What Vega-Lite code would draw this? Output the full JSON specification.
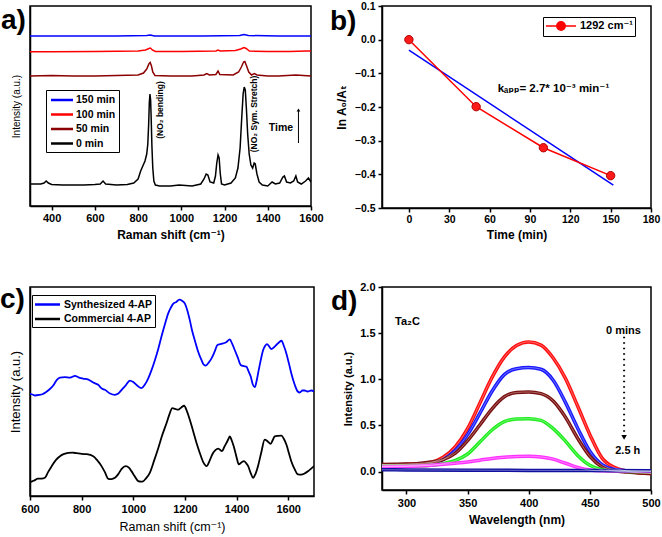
{
 "$schema": "https://vega.github.io/schema/vega-lite/v6.json",
 "autosize": {"type": "none"},
 "padding": {"left": 30, "top": 6, "right": 632, "bottom": 531},
 "background": "white",
 "columns": 2,
 "spacing": {"row": 79, "column": 68},
 "bounds": "flush",
 "align": "each",
 "resolve": {"scale": {"color": "independent"}, "legend": {"color": "independent"}},
 "config": {
  "font": "Liberation Sans, DejaVu Sans, sans-serif",
  "view": {"stroke": "black", "strokeWidth": 1.5},
  "axis": {"domainColor": "black", "domainWidth": 1.5, "tickColor": "black", "tickWidth": 1.5, "tickSize": 4, "labelColor": "black", "labelFontWeight": "bold", "labelFontSize": 11, "labelPadding": 2, "titleColor": "black", "titleFontWeight": "bold", "titleFontSize": 12, "grid": false, "labelFlush": false, "labelOverlap": false, "labelSeparation": 0, "labelBound": false, "tickCount": 12},
  "legend": {"strokeColor": "black", "fillColor": "white", "padding": 3, "labelColor": "black", "labelFontSize": 11, "labelFontWeight": "bold", "rowPadding": 2, "labelOffset": 4, "symbolStrokeWidth": 2.5},
  "title": {"anchor": "start", "frame": "group", "orient": "top", "baseline": "alphabetic", "fontSize": 28, "fontWeight": "bold", "color": "black"}
 },
 "datasets": {
  "a": [
   {"s":"0 min","x":300,"y":22},{"s":"0 min","x":320,"y":22},{"s":"0 min","x":350,"y":22},{"s":"0 min","x":365,"y":23},{"s":"0 min","x":375,"y":25},{"s":"0 min","x":385,"y":23},{"s":"0 min","x":400,"y":21.5},{"s":"0 min","x":450,"y":21},{"s":"0 min","x":500,"y":21},{"s":"0 min","x":550,"y":21},{"s":"0 min","x":600,"y":21.5},{"s":"0 min","x":625,"y":22},{"s":"0 min","x":638,"y":25},{"s":"0 min","x":650,"y":22},{"s":"0 min","x":700,"y":21},{"s":"0 min","x":750,"y":21.5},{"s":"0 min","x":780,"y":23},{"s":"0 min","x":800,"y":27},{"s":"0 min","x":812,"y":35},{"s":"0 min","x":822,"y":40},{"s":"0 min","x":832,"y":45},{"s":"0 min","x":840,"y":52},{"s":"0 min","x":845,"y":62},{"s":"0 min","x":849,"y":82},{"s":"0 min","x":852,"y":103},{"s":"0 min","x":855,"y":112},{"s":"0 min","x":858,"y":106},{"s":"0 min","x":861,"y":85},{"s":"0 min","x":864,"y":60},{"s":"0 min","x":868,"y":38},{"s":"0 min","x":873,"y":25},{"s":"0 min","x":880,"y":21},{"s":"0 min","x":900,"y":20},{"s":"0 min","x":950,"y":20},{"s":"0 min","x":990,"y":21},{"s":"0 min","x":1050,"y":20},{"s":"0 min","x":1090,"y":22},{"s":"0 min","x":1105,"y":27},{"s":"0 min","x":1115,"y":32},{"s":"0 min","x":1123,"y":31},{"s":"0 min","x":1133,"y":24},{"s":"0 min","x":1150,"y":23},{"s":"0 min","x":1158,"y":30},{"s":"0 min","x":1164,"y":43},{"s":"0 min","x":1170,"y":51},{"s":"0 min","x":1175,"y":48},{"s":"0 min","x":1180,"y":33},{"s":"0 min","x":1186,"y":22},{"s":"0 min","x":1200,"y":21},{"s":"0 min","x":1230,"y":23},{"s":"0 min","x":1250,"y":28},{"s":"0 min","x":1262,"y":38},{"s":"0 min","x":1272,"y":58},{"s":"0 min","x":1280,"y":90},{"s":"0 min","x":1286,"y":112},{"s":"0 min","x":1291,"y":119},{"s":"0 min","x":1296,"y":116},{"s":"0 min","x":1301,"y":98},{"s":"0 min","x":1307,"y":72},{"s":"0 min","x":1314,"y":52},{"s":"0 min","x":1322,"y":41},{"s":"0 min","x":1330,"y":38},{"s":"0 min","x":1337,"y":43},{"s":"0 min","x":1342,"y":42},{"s":"0 min","x":1350,"y":32},{"s":"0 min","x":1360,"y":24},{"s":"0 min","x":1375,"y":21},{"s":"0 min","x":1400,"y":20},{"s":"0 min","x":1420,"y":24},{"s":"0 min","x":1435,"y":22},{"s":"0 min","x":1455,"y":23},{"s":"0 min","x":1470,"y":29},{"s":"0 min","x":1477,"y":30},{"s":"0 min","x":1487,"y":24},{"s":"0 min","x":1505,"y":23},{"s":"0 min","x":1520,"y":25},{"s":"0 min","x":1530,"y":30},{"s":"0 min","x":1538,"y":24},{"s":"0 min","x":1555,"y":22},{"s":"0 min","x":1575,"y":25},{"s":"0 min","x":1588,"y":28},{"s":"0 min","x":1600,"y":24},
   {"s":"50 min","x":300,"y":130},{"s":"50 min","x":400,"y":130.5},{"s":"50 min","x":500,"y":130},{"s":"50 min","x":600,"y":130},{"s":"50 min","x":700,"y":130.5},{"s":"50 min","x":800,"y":131},{"s":"50 min","x":825,"y":133},{"s":"50 min","x":840,"y":137},{"s":"50 min","x":850,"y":142},{"s":"50 min","x":856,"y":143.5},{"s":"50 min","x":862,"y":140},{"s":"50 min","x":868,"y":134},{"s":"50 min","x":878,"y":130.5},{"s":"50 min","x":950,"y":130},{"s":"50 min","x":1050,"y":130},{"s":"50 min","x":1105,"y":131},{"s":"50 min","x":1118,"y":132.5},{"s":"50 min","x":1130,"y":131},{"s":"50 min","x":1160,"y":131.5},{"s":"50 min","x":1170,"y":135},{"s":"50 min","x":1178,"y":131.5},{"s":"50 min","x":1240,"y":131},{"s":"50 min","x":1265,"y":134},{"s":"50 min","x":1278,"y":139},{"s":"50 min","x":1288,"y":144},{"s":"50 min","x":1294,"y":144.5},{"s":"50 min","x":1302,"y":140},{"s":"50 min","x":1312,"y":134},{"s":"50 min","x":1325,"y":131},{"s":"50 min","x":1338,"y":132.5},{"s":"50 min","x":1350,"y":131},{"s":"50 min","x":1400,"y":130},{"s":"50 min","x":1450,"y":130},{"s":"50 min","x":1530,"y":131},{"s":"50 min","x":1600,"y":130},
   {"s":"100 min","x":300,"y":154.3},{"s":"100 min","x":400,"y":154.3},{"s":"100 min","x":600,"y":154.5},{"s":"100 min","x":800,"y":155},{"s":"100 min","x":835,"y":156},{"s":"100 min","x":850,"y":157.5},{"s":"100 min","x":857,"y":158},{"s":"100 min","x":866,"y":156},{"s":"100 min","x":880,"y":154.5},{"s":"100 min","x":1000,"y":154.5},{"s":"100 min","x":1160,"y":155},{"s":"100 min","x":1170,"y":156},{"s":"100 min","x":1180,"y":155},{"s":"100 min","x":1250,"y":155.5},{"s":"100 min","x":1275,"y":157},{"s":"100 min","x":1290,"y":158.5},{"s":"100 min","x":1300,"y":157.5},{"s":"100 min","x":1315,"y":155},{"s":"100 min","x":1400,"y":154.5},{"s":"100 min","x":1500,"y":154.5},{"s":"100 min","x":1580,"y":155},{"s":"100 min","x":1600,"y":155},
   {"s":"150 min","x":300,"y":170},{"s":"150 min","x":500,"y":170},{"s":"150 min","x":700,"y":170},{"s":"150 min","x":840,"y":170.5},{"s":"150 min","x":857,"y":171},{"s":"150 min","x":875,"y":170},{"s":"150 min","x":1100,"y":170},{"s":"150 min","x":1270,"y":170.5},{"s":"150 min","x":1290,"y":171.5},{"s":"150 min","x":1310,"y":170.5},{"s":"150 min","x":1450,"y":170},{"s":"150 min","x":1600,"y":170}
  ],
  "aTxt": [{"x": 900, "y": 96, "label": "(NO₂ bending)"}, {"x": 1337, "y": 92, "label": "(NO₂ Sym. Stretch)"}],
  "aTime": [{"x": 1461, "y": 78, "label": "Time"}],
  "aArrow": [{"x": 1542, "y": 63, "y2": 95}],
  "aHead": [{"x": 1542, "y": 96}],
  "b": [{"s":"1292 cm⁻¹","x":0,"y":0},{"s":"1292 cm⁻¹","x":50,"y":-0.199},{"s":"1292 cm⁻¹","x":100,"y":-0.321},{"s":"1292 cm⁻¹","x":150,"y":-0.404}],
  "bFit": [{"x": 0, "y": -0.031}, {"x": 152, "y": -0.432}],
  "bTxt": [{"x": 66, "y": -0.147, "label": "kₐₚₚ= 2.7* 10⁻³ min⁻¹"}],
  "c": [
   {"s":"Synthesized 4-AP","x":600,"y":102.7},{"s":"Synthesized 4-AP","x":610,"y":102},{"s":"Synthesized 4-AP","x":619,"y":101},{"s":"Synthesized 4-AP","x":635,"y":101.5},{"s":"Synthesized 4-AP","x":650,"y":102.5},{"s":"Synthesized 4-AP","x":660,"y":104},{"s":"Synthesized 4-AP","x":675,"y":107},{"s":"Synthesized 4-AP","x":690,"y":111},{"s":"Synthesized 4-AP","x":705,"y":117},{"s":"Synthesized 4-AP","x":716,"y":119},{"s":"Synthesized 4-AP","x":735,"y":119.5},{"s":"Synthesized 4-AP","x":755,"y":119},{"s":"Synthesized 4-AP","x":774,"y":120.7},{"s":"Synthesized 4-AP","x":790,"y":119},{"s":"Synthesized 4-AP","x":805,"y":118},{"s":"Synthesized 4-AP","x":826,"y":117},{"s":"Synthesized 4-AP","x":845,"y":114},{"s":"Synthesized 4-AP","x":864,"y":111.7},{"s":"Synthesized 4-AP","x":878,"y":108},{"s":"Synthesized 4-AP","x":890,"y":106.7},{"s":"Synthesized 4-AP","x":910,"y":103},{"s":"Synthesized 4-AP","x":929,"y":101.7},{"s":"Synthesized 4-AP","x":942,"y":103},{"s":"Synthesized 4-AP","x":955,"y":106.7},{"s":"Synthesized 4-AP","x":970,"y":111},{"s":"Synthesized 4-AP","x":987,"y":116},{"s":"Synthesized 4-AP","x":1000,"y":114.5},{"s":"Synthesized 4-AP","x":1015,"y":111},{"s":"Synthesized 4-AP","x":1032,"y":108.3},{"s":"Synthesized 4-AP","x":1045,"y":112},{"s":"Synthesized 4-AP","x":1058,"y":118.3},{"s":"Synthesized 4-AP","x":1070,"y":126},{"s":"Synthesized 4-AP","x":1084,"y":136.7},{"s":"Synthesized 4-AP","x":1097,"y":148},{"s":"Synthesized 4-AP","x":1109,"y":160},{"s":"Synthesized 4-AP","x":1122,"y":172},{"s":"Synthesized 4-AP","x":1135,"y":183.3},{"s":"Synthesized 4-AP","x":1145,"y":189},{"s":"Synthesized 4-AP","x":1155,"y":193.3},{"s":"Synthesized 4-AP","x":1167,"y":195},{"s":"Synthesized 4-AP","x":1178,"y":197.3},{"s":"Synthesized 4-AP","x":1190,"y":196},{"s":"Synthesized 4-AP","x":1200,"y":193.3},{"s":"Synthesized 4-AP","x":1210,"y":186},{"s":"Synthesized 4-AP","x":1219,"y":176.7},{"s":"Synthesized 4-AP","x":1228,"y":166},{"s":"Synthesized 4-AP","x":1238,"y":156.7},{"s":"Synthesized 4-AP","x":1250,"y":146},{"s":"Synthesized 4-AP","x":1264,"y":136.7},{"s":"Synthesized 4-AP","x":1273,"y":132},{"s":"Synthesized 4-AP","x":1281,"y":131},{"s":"Synthesized 4-AP","x":1292,"y":134},{"s":"Synthesized 4-AP","x":1303,"y":138.3},{"s":"Synthesized 4-AP","x":1315,"y":145},{"s":"Synthesized 4-AP","x":1326,"y":151.7},{"s":"Synthesized 4-AP","x":1337,"y":152.5},{"s":"Synthesized 4-AP","x":1348,"y":153.3},{"s":"Synthesized 4-AP","x":1360,"y":154.5},{"s":"Synthesized 4-AP","x":1374,"y":157.3},{"s":"Synthesized 4-AP","x":1383,"y":153},{"s":"Synthesized 4-AP","x":1393,"y":146.7},{"s":"Synthesized 4-AP","x":1405,"y":139},{"s":"Synthesized 4-AP","x":1416,"y":131.7},{"s":"Synthesized 4-AP","x":1428,"y":130.5},{"s":"Synthesized 4-AP","x":1438,"y":130},{"s":"Synthesized 4-AP","x":1447,"y":125},{"s":"Synthesized 4-AP","x":1455,"y":120},{"s":"Synthesized 4-AP","x":1463,"y":112},{"s":"Synthesized 4-AP","x":1471,"y":109.3},{"s":"Synthesized 4-AP","x":1478,"y":116},{"s":"Synthesized 4-AP","x":1486,"y":126.7},{"s":"Synthesized 4-AP","x":1495,"y":138},{"s":"Synthesized 4-AP","x":1503,"y":146.7},{"s":"Synthesized 4-AP","x":1511,"y":151},{"s":"Synthesized 4-AP","x":1518,"y":152.7},{"s":"Synthesized 4-AP","x":1527,"y":150},{"s":"Synthesized 4-AP","x":1535,"y":147.7},{"s":"Synthesized 4-AP","x":1545,"y":149.5},{"s":"Synthesized 4-AP","x":1554,"y":151.7},{"s":"Synthesized 4-AP","x":1565,"y":154.5},{"s":"Synthesized 4-AP","x":1574,"y":156},{"s":"Synthesized 4-AP","x":1583,"y":151},{"s":"Synthesized 4-AP","x":1593,"y":143.3},{"s":"Synthesized 4-AP","x":1603,"y":133},{"s":"Synthesized 4-AP","x":1612,"y":123.3},{"s":"Synthesized 4-AP","x":1625,"y":112},{"s":"Synthesized 4-AP","x":1637,"y":105},{"s":"Synthesized 4-AP","x":1645,"y":104},{"s":"Synthesized 4-AP","x":1655,"y":106},{"s":"Synthesized 4-AP","x":1664,"y":106},{"s":"Synthesized 4-AP","x":1675,"y":105},{"s":"Synthesized 4-AP","x":1690,"y":106},{"s":"Synthesized 4-AP","x":1700,"y":105},
   {"s":"Commercial 4-AP","x":600,"y":14},{"s":"Commercial 4-AP","x":610,"y":15},{"s":"Commercial 4-AP","x":619,"y":16},{"s":"Commercial 4-AP","x":630,"y":17.5},{"s":"Commercial 4-AP","x":645,"y":17.5},{"s":"Commercial 4-AP","x":658,"y":18.3},{"s":"Commercial 4-AP","x":670,"y":24},{"s":"Commercial 4-AP","x":684,"y":30},{"s":"Commercial 4-AP","x":700,"y":36},{"s":"Commercial 4-AP","x":716,"y":40},{"s":"Commercial 4-AP","x":730,"y":42},{"s":"Commercial 4-AP","x":748,"y":43.3},{"s":"Commercial 4-AP","x":765,"y":43.5},{"s":"Commercial 4-AP","x":780,"y":43},{"s":"Commercial 4-AP","x":800,"y":42.3},{"s":"Commercial 4-AP","x":820,"y":42},{"s":"Commercial 4-AP","x":845,"y":40},{"s":"Commercial 4-AP","x":860,"y":36},{"s":"Commercial 4-AP","x":877,"y":30},{"s":"Commercial 4-AP","x":890,"y":24},{"s":"Commercial 4-AP","x":903,"y":17.3},{"s":"Commercial 4-AP","x":915,"y":17},{"s":"Commercial 4-AP","x":929,"y":18.3},{"s":"Commercial 4-AP","x":942,"y":22},{"s":"Commercial 4-AP","x":955,"y":27.3},{"s":"Commercial 4-AP","x":971,"y":30},{"s":"Commercial 4-AP","x":983,"y":28.5},{"s":"Commercial 4-AP","x":993,"y":25},{"s":"Commercial 4-AP","x":1005,"y":20},{"s":"Commercial 4-AP","x":1019,"y":15},{"s":"Commercial 4-AP","x":1030,"y":14.5},{"s":"Commercial 4-AP","x":1038,"y":14.7},{"s":"Commercial 4-AP","x":1050,"y":18},{"s":"Commercial 4-AP","x":1064,"y":23.3},{"s":"Commercial 4-AP","x":1080,"y":35},{"s":"Commercial 4-AP","x":1097,"y":48.3},{"s":"Commercial 4-AP","x":1112,"y":61},{"s":"Commercial 4-AP","x":1129,"y":73.3},{"s":"Commercial 4-AP","x":1140,"y":82},{"s":"Commercial 4-AP","x":1151,"y":88.3},{"s":"Commercial 4-AP","x":1162,"y":87.5},{"s":"Commercial 4-AP","x":1174,"y":86.7},{"s":"Commercial 4-AP","x":1186,"y":89},{"s":"Commercial 4-AP","x":1197,"y":90.7},{"s":"Commercial 4-AP","x":1208,"y":85},{"s":"Commercial 4-AP","x":1219,"y":76.7},{"s":"Commercial 4-AP","x":1232,"y":65},{"s":"Commercial 4-AP","x":1245,"y":53.3},{"s":"Commercial 4-AP","x":1258,"y":43},{"s":"Commercial 4-AP","x":1271,"y":34},{"s":"Commercial 4-AP","x":1284,"y":30},{"s":"Commercial 4-AP","x":1295,"y":35},{"s":"Commercial 4-AP","x":1306,"y":41.7},{"s":"Commercial 4-AP","x":1318,"y":46},{"s":"Commercial 4-AP","x":1329,"y":47.7},{"s":"Commercial 4-AP","x":1344,"y":45},{"s":"Commercial 4-AP","x":1352,"y":49},{"s":"Commercial 4-AP","x":1361,"y":53.3},{"s":"Commercial 4-AP","x":1368,"y":57},{"s":"Commercial 4-AP","x":1374,"y":60},{"s":"Commercial 4-AP","x":1381,"y":56},{"s":"Commercial 4-AP","x":1389,"y":50},{"s":"Commercial 4-AP","x":1399,"y":40},{"s":"Commercial 4-AP","x":1409,"y":31.7},{"s":"Commercial 4-AP","x":1420,"y":34},{"s":"Commercial 4-AP","x":1429,"y":35},{"s":"Commercial 4-AP","x":1437,"y":33},{"s":"Commercial 4-AP","x":1445,"y":30},{"s":"Commercial 4-AP","x":1455,"y":23},{"s":"Commercial 4-AP","x":1464,"y":18.3},{"s":"Commercial 4-AP","x":1473,"y":22},{"s":"Commercial 4-AP","x":1483,"y":30},{"s":"Commercial 4-AP","x":1496,"y":44},{"s":"Commercial 4-AP","x":1509,"y":56.7},{"s":"Commercial 4-AP","x":1520,"y":55},{"s":"Commercial 4-AP","x":1532,"y":52.3},{"s":"Commercial 4-AP","x":1540,"y":56},{"s":"Commercial 4-AP","x":1548,"y":60},{"s":"Commercial 4-AP","x":1560,"y":60.5},{"s":"Commercial 4-AP","x":1574,"y":60.7},{"s":"Commercial 4-AP","x":1584,"y":57},{"s":"Commercial 4-AP","x":1593,"y":51.7},{"s":"Commercial 4-AP","x":1603,"y":43},{"s":"Commercial 4-AP","x":1612,"y":35},{"s":"Commercial 4-AP","x":1625,"y":27},{"s":"Commercial 4-AP","x":1638,"y":21.7},{"s":"Commercial 4-AP","x":1650,"y":21.5},{"s":"Commercial 4-AP","x":1664,"y":22.7},{"s":"Commercial 4-AP","x":1680,"y":25.5},{"s":"Commercial 4-AP","x":1700,"y":30}
  ],
  "d": [
   {"s":"r","x":280,"y":0.075},{"s":"r","x":290,"y":0.075},{"s":"r","x":300,"y":0.078},{"s":"r","x":310,"y":0.082},{"s":"r","x":320,"y":0.098},{"s":"r","x":330,"y":0.155},{"s":"r","x":340,"y":0.27},{"s":"r","x":350,"y":0.465},{"s":"r","x":360,"y":0.74},{"s":"r","x":370,"y":1.02},{"s":"r","x":380,"y":1.24},{"s":"r","x":390,"y":1.365},{"s":"r","x":400,"y":1.405},{"s":"r","x":410,"y":1.37},{"s":"r","x":420,"y":1.23},{"s":"r","x":430,"y":1.01},{"s":"r","x":440,"y":0.71},{"s":"r","x":450,"y":0.4},{"s":"r","x":460,"y":0.145},{"s":"r","x":470,"y":0.045},{"s":"r","x":480,"y":0.005},{"s":"r","x":490,"y":-0.012},{"s":"r","x":500,"y":-0.02},
   {"s":"b","x":280,"y":0.058},{"s":"b","x":290,"y":0.06},{"s":"b","x":300,"y":0.063},{"s":"b","x":310,"y":0.07},{"s":"b","x":320,"y":0.085},{"s":"b","x":330,"y":0.13},{"s":"b","x":340,"y":0.23},{"s":"b","x":350,"y":0.4},{"s":"b","x":360,"y":0.63},{"s":"b","x":370,"y":0.87},{"s":"b","x":380,"y":1.05},{"s":"b","x":390,"y":1.115},{"s":"b","x":400,"y":1.127},{"s":"b","x":410,"y":1.108},{"s":"b","x":420,"y":0.99},{"s":"b","x":430,"y":0.75},{"s":"b","x":440,"y":0.47},{"s":"b","x":450,"y":0.22},{"s":"b","x":460,"y":0.075},{"s":"b","x":470,"y":0.022},{"s":"b","x":480,"y":0.01},{"s":"b","x":490,"y":0.005},{"s":"b","x":500,"y":0.003},
   {"s":"m","x":280,"y":0.076},{"s":"m","x":290,"y":0.078},{"s":"m","x":300,"y":0.081},{"s":"m","x":310,"y":0.088},{"s":"m","x":320,"y":0.103},{"s":"m","x":330,"y":0.13},{"s":"m","x":340,"y":0.2},{"s":"m","x":350,"y":0.335},{"s":"m","x":360,"y":0.505},{"s":"m","x":370,"y":0.68},{"s":"m","x":380,"y":0.81},{"s":"m","x":390,"y":0.857},{"s":"m","x":400,"y":0.862},{"s":"m","x":410,"y":0.845},{"s":"m","x":420,"y":0.765},{"s":"m","x":430,"y":0.59},{"s":"m","x":440,"y":0.36},{"s":"m","x":450,"y":0.165},{"s":"m","x":460,"y":0.05},{"s":"m","x":470,"y":0.008},{"s":"m","x":480,"y":-0.005},{"s":"m","x":490,"y":-0.015},{"s":"m","x":500,"y":-0.02},
   {"s":"g","x":280,"y":0.058},{"s":"g","x":290,"y":0.058},{"s":"g","x":300,"y":0.058},{"s":"g","x":310,"y":0.06},{"s":"g","x":320,"y":0.068},{"s":"g","x":330,"y":0.085},{"s":"g","x":340,"y":0.12},{"s":"g","x":350,"y":0.19},{"s":"g","x":360,"y":0.32},{"s":"g","x":370,"y":0.45},{"s":"g","x":380,"y":0.54},{"s":"g","x":390,"y":0.57},{"s":"g","x":400,"y":0.573},{"s":"g","x":410,"y":0.555},{"s":"g","x":420,"y":0.465},{"s":"g","x":430,"y":0.33},{"s":"g","x":440,"y":0.175},{"s":"g","x":450,"y":0.068},{"s":"g","x":460,"y":0.02},{"s":"g","x":470,"y":0.005},{"s":"g","x":480,"y":0.002},{"s":"g","x":490,"y":0},{"s":"g","x":500,"y":0},
   {"s":"p","x":280,"y":0.05},{"s":"p","x":290,"y":0.052},{"s":"p","x":300,"y":0.055},{"s":"p","x":310,"y":0.06},{"s":"p","x":320,"y":0.068},{"s":"p","x":330,"y":0.078},{"s":"p","x":340,"y":0.09},{"s":"p","x":350,"y":0.104},{"s":"p","x":360,"y":0.123},{"s":"p","x":370,"y":0.142},{"s":"p","x":380,"y":0.155},{"s":"p","x":390,"y":0.163},{"s":"p","x":400,"y":0.166},{"s":"p","x":410,"y":0.158},{"s":"p","x":420,"y":0.135},{"s":"p","x":430,"y":0.09},{"s":"p","x":440,"y":0.045},{"s":"p","x":450,"y":0.016},{"s":"p","x":460,"y":0.008},{"s":"p","x":470,"y":0.006},{"s":"p","x":480,"y":0.005},{"s":"p","x":490,"y":0.004},{"s":"p","x":500,"y":0.004},
   {"s":"n","x":280,"y":0.02},{"s":"n","x":300,"y":0.018},{"s":"n","x":350,"y":0.015},{"s":"n","x":400,"y":0.012},{"s":"n","x":450,"y":0.011},{"s":"n","x":500,"y":0.009}
  ],
  "dTa": [{"x": 290.7, "y": 1.62, "label": "Ta₂C"}],
  "dTxt": [{"x": 477.5, "y": 1.525, "label": "0 mins"}, {"x": 481, "y": 0.22, "label": "2.5 h"}],
  "dArrow": [{"x": 478, "y": 1.46, "y2": 0.39}],
  "dHead": [{"x": 478, "y": 0.37}]
 },
 "concat": [
  {
   "width": 281, "height": 200,
   "title": {"text": "a)", "dx": -29, "offset": -29},
   "layer": [
    {
     "data": {"name": "a"},
     "mark": {"type": "line", "strokeWidth": 1.5, "clip": true},
     "encoding": {
      "x": {"field": "x", "type": "quantitative", "scale": {"domain": [300, 1600], "nice": false, "zero": false}, "axis": {"values": [400, 600, 800, 1000, 1200, 1400, 1600], "tickCount": 12, "format": "d", "labelOverlap": false, "title": "Raman shift (cm⁻¹)", "titlePadding": 6}},
      "y": {"field": "y", "type": "quantitative", "scale": {"domain": [0, 200], "nice": false}, "axis": {"title": "Intensity (a.u.)", "labels": false, "ticks": false, "titleFontWeight": "normal", "titleFontSize": 10, "titlePadding": 9}},
      "color": {"field": "s", "type": "nominal", "scale": {"domain": ["150 min", "100 min", "50 min", "0 min"], "range": ["#0000ff", "#ff0000", "#8b0000", "#000000"]}, "legend": {"title": null, "orient": "none", "legendX": 16, "legendY": 84, "symbolType": "M-2,0H2", "symbolSize": 121, "symbolOffset": 6, "labelOffset": 7, "labelFontSize": 10.5, "rowPadding": 1.5, "direction": "vertical"}}
     }
    },
    {
     "data": {"name": "aTxt"},
     "mark": {"type": "text", "angle": 270, "fontSize": 8.5, "fontWeight": "bold", "align": "center", "baseline": "middle", "color": "black"},
     "encoding": {"x": {"field": "x", "type": "quantitative"}, "y": {"field": "y", "type": "quantitative"}, "text": {"field": "label"}}
    },
    {
     "data": {"name": "aTime"},
     "mark": {"type": "text", "fontSize": 10.5, "fontWeight": "bold", "align": "center", "baseline": "middle", "color": "black"},
     "encoding": {"x": {"field": "x", "type": "quantitative"}, "y": {"field": "y", "type": "quantitative"}, "text": {"field": "label"}}
    },
    {
     "data": {"name": "aArrow"},
     "mark": {"type": "rule", "color": "black", "strokeWidth": 1},
     "encoding": {"x": {"field": "x", "type": "quantitative"}, "y": {"field": "y", "type": "quantitative"}, "y2": {"field": "y2"}}
    },
    {
     "data": {"name": "aHead"},
     "mark": {"type": "point", "shape": "triangle-up", "filled": true, "color": "black", "size": 14, "opacity": 1},
     "encoding": {"x": {"field": "x", "type": "quantitative"}, "y": {"field": "y", "type": "quantitative"}}
    }
   ]
  },
  {
   "width": 269, "height": 202,
   "title": {"text": "b)", "dx": -52, "offset": -35},
   "layer": [
    {
     "data": {"name": "bFit"},
     "mark": {"type": "line", "color": "#0000ff", "strokeWidth": 1.5},
     "encoding": {
      "x": {"field": "x", "type": "quantitative", "scale": {"domain": [-20, 180], "nice": false, "zero": false}, "axis": {"values": [0, 30, 60, 90, 120, 150, 180], "tickCount": 12, "labelOverlap": false, "title": "Time (min)", "titlePadding": 5, "labelFontSize": 10.5}},
      "y": {"field": "y", "type": "quantitative", "scale": {"domain": [-0.5, 0.1], "nice": false, "zero": false}, "axis": {"values": [-0.5, -0.4, -0.3, -0.2, -0.1, 0, 0.1], "tickCount": 12, "labelOverlap": false, "format": ".1f", "title": "ln A₀/Aₜ", "titlePadding": 6, "labelFontSize": 10.5, "labelPadding": 3}}
     }
    },
    {
     "data": {"name": "b"},
     "mark": {"type": "line", "strokeWidth": 1.5},
     "encoding": {
      "x": {"field": "x", "type": "quantitative"},
      "y": {"field": "y", "type": "quantitative"},
      "color": {"field": "s", "type": "nominal", "scale": {"range": ["#ff0000"]}, "legend": {"title": null, "orient": "none", "legendX": 161, "legendY": 11, "symbolType": "M-2.5,0H-0.7M0.7,0H2.5M0.7,0A0.7,0.7,0,1,1,-0.7,0A0.7,0.7,0,1,1,0.7,0Z", "symbolSize": 144, "symbolOffset": 9, "symbolStrokeWidth": 1.5, "labelOffset": 12, "padding": 2, "encode": {"symbols": {"update": {"fill": {"value": "#ff0000"}, "stroke": {"value": "#ff0000"}}}}}}
     }
    },
    {
     "data": {"name": "b"},
     "mark": {"type": "point", "filled": true, "color": "#ff1a1a", "size": 70, "opacity": 1, "stroke": "#b00000", "strokeWidth": 1},
     "encoding": {"x": {"field": "x", "type": "quantitative"}, "y": {"field": "y", "type": "quantitative"}}
    },
    {
     "data": {"name": "bTxt"},
     "mark": {"type": "text", "fontSize": 11.5, "fontWeight": "bold", "align": "left", "baseline": "middle", "color": "black"},
     "encoding": {"x": {"field": "x", "type": "quantitative"}, "y": {"field": "y", "type": "quantitative"}, "text": {"field": "label"}}
    }
   ]
  },
  {
   "width": 284, "height": 209,
   "title": {"text": "c)", "dx": -30, "offset": -27},
   "layer": [
    {
     "data": {"name": "c"},
     "mark": {"type": "line", "strokeWidth": 1.8, "interpolate": "monotone", "clip": true},
     "encoding": {
      "x": {"field": "x", "type": "quantitative", "scale": {"domain": [600, 1700], "nice": false, "zero": false}, "axis": {"values": [600, 800, 1000, 1200, 1400, 1600], "tickCount": 12, "format": "d", "labelOverlap": false, "title": "Raman shift (cm⁻¹)", "titleFontWeight": "normal", "titleFontSize": 12.5, "titlePadding": 6, "labelPadding": 3}},
      "y": {"field": "y", "type": "quantitative", "scale": {"domain": [0, 210], "nice": false}, "axis": {"title": "Intensity (a.u.)", "labels": false, "ticks": false, "titleFontWeight": "normal", "titleFontSize": 13, "titlePadding": 8}},
      "color": {"field": "s", "type": "nominal", "scale": {"domain": ["Synthesized 4-AP", "Commercial 4-AP"], "range": ["#0000ff", "#000000"]}, "legend": {"title": null, "orient": "none", "legendX": 2, "legendY": 8, "symbolType": "M-2,0H2", "symbolSize": 156, "symbolOffset": 6, "labelOffset": 9, "labelFontWeight": "bold", "labelFontSize": 10.5, "padding": 2, "rowPadding": 1.5}}
     }
    }
   ]
  },
  {
   "width": 269, "height": 203,
   "title": {"text": "d)", "dx": -51, "offset": -35},
   "layer": [
    {
     "data": {"name": "d"},
     "mark": {"type": "line", "strokeWidth": 3.5, "interpolate": "monotone", "clip": true},
     "encoding": {
      "x": {"field": "x", "type": "quantitative", "scale": {"domain": [280, 500], "nice": false, "zero": false}, "axis": {"values": [300, 350, 400, 450, 500], "tickCount": 12, "labelOverlap": false, "title": "Wavelength (nm)", "titlePadding": 6, "labelPadding": 3}},
      "y": {"field": "y", "type": "quantitative", "scale": {"domain": [-0.2, 2.0], "nice": false, "zero": false}, "axis": {"values": [0, 0.5, 1, 1.5, 2], "tickCount": 12, "labelOverlap": false, "format": ".1f", "title": "Intensity (a.u.)", "titleFontSize": 11, "titlePadding": 6, "labelPadding": 3}},
      "color": {"field": "s", "type": "nominal", "scale": {"domain": ["r", "b", "m", "g", "p", "n"], "range": ["#ff1010", "#1a1aff", "#7a1010", "#20ee20", "#ff30ff", "#1010a0"]}, "legend": null}
     }
    },
    {
     "data": {"name": "d"},
     "mark": {"type": "line", "strokeWidth": 0.8, "interpolate": "monotone", "clip": true, "color": "white", "opacity": 0.45},
     "encoding": {
      "x": {"field": "x", "type": "quantitative"},
      "y": {"field": "y", "type": "quantitative"},
      "detail": {"field": "s", "type": "nominal"}
     }
    },
    {
     "data": {"name": "dTa"},
     "mark": {"type": "text", "fontSize": 11, "fontWeight": "bold", "align": "left", "baseline": "middle", "color": "black"},
     "encoding": {"x": {"field": "x", "type": "quantitative"}, "y": {"field": "y", "type": "quantitative"}, "text": {"field": "label"}}
    },
    {
     "data": {"name": "dTxt"},
     "mark": {"type": "text", "fontSize": 11, "fontWeight": "bold", "align": "center", "baseline": "middle", "color": "black"},
     "encoding": {"x": {"field": "x", "type": "quantitative"}, "y": {"field": "y", "type": "quantitative"}, "text": {"field": "label"}}
    },
    {
     "data": {"name": "dArrow"},
     "mark": {"type": "rule", "color": "black", "strokeWidth": 2, "strokeDash": [1.5, 4]},
     "encoding": {"x": {"field": "x", "type": "quantitative"}, "y": {"field": "y", "type": "quantitative"}, "y2": {"field": "y2"}}
    },
    {
     "data": {"name": "dHead"},
     "mark": {"type": "point", "shape": "triangle-down", "filled": true, "color": "black", "size": 30, "opacity": 1},
     "encoding": {"x": {"field": "x", "type": "quantitative"}, "y": {"field": "y", "type": "quantitative"}}
    }
   ]
  }
 ]
}
